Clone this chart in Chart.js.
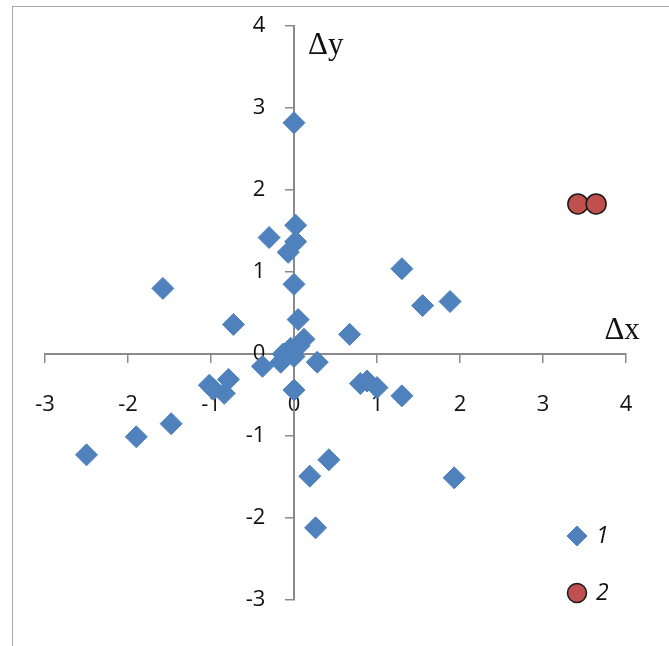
<!DOCTYPE html>
<html lang="en">

<head>
    <meta charset="UTF-8">
    <title>Δx Δy</title>
    <style>
        html, body { margin: 0; padding: 0; background: #fff; overflow: hidden; }
        .wrap { position: relative; width: 669px; height: 646px; }
        .frame { position: absolute; left: 12px; top: 6px; width: 720px; height: 720px; border: 1px solid #a6a6a6; }
        #myChart { position: absolute; left: 0; top: 0; }
    </style>
</head>

<body>
    <div class="wrap">
        <div class="frame"></div>
        <canvas id="myChart" width="669" height="646"></canvas>
    </div>

    <script src="https://cdn.jsdelivr.net/npm/chart.js"></script>
    <script>
        // series 1 (diamonds)
        const group1X = [0, 0.02, -0.3, 0.02, -0.07, 0, -1.58, 1.3, 1.55, 1.88, -0.73, 0.05, 0.67,
            0.12, 0.06, -0.04, -0.13, 0, -0.16, -0.38, 0.28, 0, -1.02, -0.97, -0.79, -0.84,
            0.8, 0.88, 1.0, 1.3, -2.5, -1.9, -1.48, 0.19, 0.42, 0.26, 1.93];
        const group1Y = [2.82, 1.57, 1.42, 1.37, 1.24, 0.85, 0.8, 1.04, 0.59, 0.64, 0.36, 0.42, 0.24,
            0.18, 0.1, 0.07, 0, -0.03, -0.1, -0.15, -0.1, -0.44, -0.38, -0.43, -0.31, -0.48,
            -0.36, -0.33, -0.41, -0.51, -1.23, -1.01, -0.85, -1.49, -1.29, -2.12, -1.51];
        // series 2 (circles)
        const group2X = [3.42, 3.64];
        const group2Y = [1.83, 1.83];
        const seriesNames = ['1', '2'];
        const axisNames = ['Δx', 'Δy'];

        const toPoints = (xs, ys) => xs.map((x, i) => ({ x: x, y: ys[i] }));

        const axisColor = '#8a8a8a';
        const tickFont = { family: 'Open Sans', size: 22 };

        // axis names and the small legend in the lower right
        const decor = {
            id: 'decor',
            afterDraw(chart) {
                const { ctx } = chart;
                const xs = chart.scales.x;
                const ys = chart.scales.y;
                ctx.save();
                ctx.fillStyle = '#111';
                ctx.font = '31px "Liberation Serif"';
                ctx.textBaseline = 'alphabetic';
                ctx.textAlign = 'left';
                ctx.fillText(axisNames[1], xs.getPixelForValue(0) + 14, ys.getPixelForValue(4) + 28);
                ctx.fillText(axisNames[0], xs.getPixelForValue(3.74), ys.getPixelForValue(0) - 15);

                ctx.font = 'italic 23px "Open Sans"';
                ctx.textBaseline = 'middle';
                const lx = 577;
                const rows = [536, 593];
                chart.data.datasets.forEach((ds, i) => {
                    ctx.fillStyle = ds.backgroundColor;
                    ctx.strokeStyle = ds.borderColor;
                    ctx.lineWidth = ds.borderWidth;
                    Chart.helpers.drawPoint(ctx, {
                        pointStyle: ds.pointStyle,
                        radius: ds.legendRadius,
                        borderWidth: ds.borderWidth,
                        rotation: 0
                    }, lx, rows[i]);
                    ctx.fillStyle = '#111';
                    ctx.fillText(seriesNames[i], lx + 19, rows[i]);
                });
                ctx.restore();
            }
        };

        let ctx = document.getElementById('myChart').getContext('2d');
        let myChart = new Chart(ctx, {
            type: 'scatter',
            data: {
                datasets: [
                    {
                        label: seriesNames[0],
                        data: toPoints(group1X, group1Y),
                        pointStyle: 'rectRot',
                        pointRadius: 11,
                        legendRadius: 10,
                        backgroundColor: '#4f81bd',
                        borderColor: '#4f81bd',
                        borderWidth: 1
                    },
                    {
                        label: seriesNames[1],
                        data: toPoints(group2X, group2Y),
                        pointStyle: 'circle',
                        pointRadius: 10,
                        legendRadius: 9.5,
                        backgroundColor: '#c0504d',
                        borderColor: '#1a1a1a',
                        borderWidth: 1.5
                    }
                ]
            },
            options: {
                responsive: false,
                animation: false,
                events: [],
                layout: {
                    padding: { left: 45, right: 43, top: 26, bottom: 46 }
                },
                plugins: {
                    legend: { display: false },
                    tooltip: { enabled: false }
                },
                scales: {
                    x: {
                        type: 'linear',
                        position: { y: 0 },
                        min: -3,
                        max: 4,
                        grid: { drawOnChartArea: false, drawTicks: true, tickLength: 8, color: axisColor, lineWidth: 1.5 },
                        border: { display: true, color: axisColor, width: 2 },
                        ticks: { stepSize: 1, padding: 30, color: '#111', font: tickFont, maxRotation: 0 }
                    },
                    y: {
                        type: 'linear',
                        position: { x: 0 },
                        min: -3,
                        max: 4,
                        grid: { drawOnChartArea: false, drawTicks: true, tickLength: 8, color: axisColor, lineWidth: 1.5 },
                        border: { display: true, color: axisColor, width: 2 },
                        // labels of a value-positioned y axis get no padding, so trailing spaces push them off the line
                        ticks: { stepSize: 1, color: '#111', font: tickFont, callback: (v) => v + '     ' }
                    }
                }
            },
            plugins: [decor]
        });
    </script>
</body>

</html>
